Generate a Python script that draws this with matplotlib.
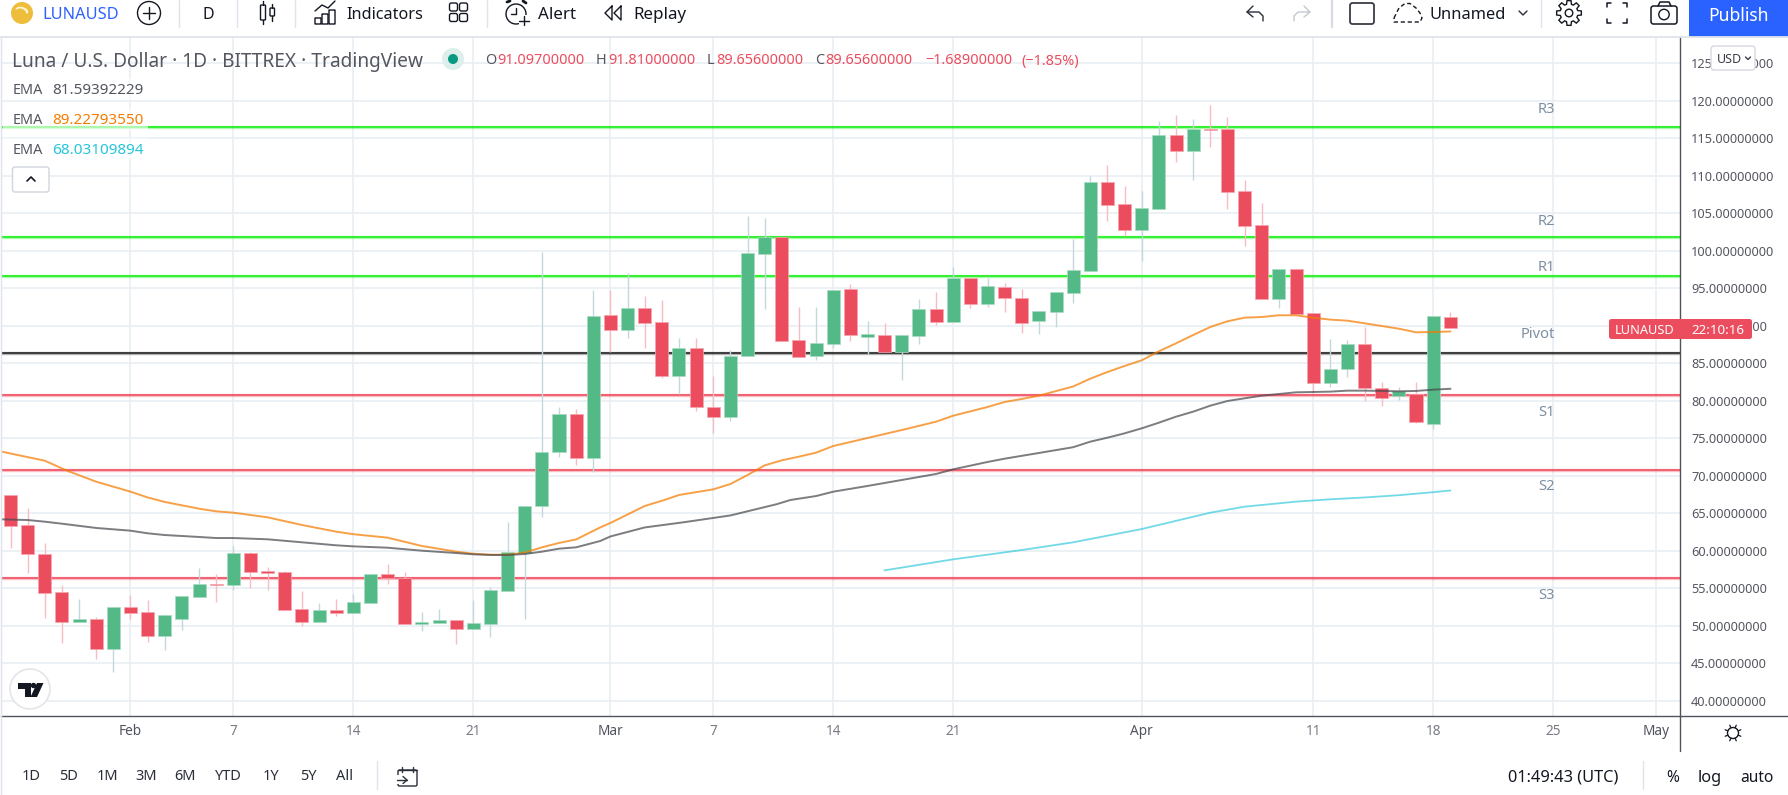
import numpy as np
import matplotlib
matplotlib.use("Agg")
import matplotlib.pyplot as plt
from matplotlib.patches import Circle, Rectangle, FancyBboxPatch, Polygon, Ellipse

plt.rcParams["font.family"] = ["Noto Sans", "DejaVu Sans"]

W, H = 1788, 795

# days are counted from Feb 1 (2022), first candle is Jan 25
first_day = -7
opens = [67.47, 63.43, 59.56, 54.49, 50.54, 50.89, 46.94, 52.49, 51.83, 48.67, 50.94, 53.87, 55.56, 55.47, 59.69,
         57.29, 57.16, 52.23, 50.54, 52.09, 51.74, 53.07, 56.89, 56.40, 50.27, 50.40, 50.76, 49.60, 50.27, 54.67,
         59.65, 65.90, 73.12, 78.18, 72.32, 91.38, 89.43, 92.32, 90.45, 83.29, 86.98, 79.20, 77.78, 85.96, 99.56,
         101.78, 88.05, 85.96, 87.52, 94.85, 88.49, 88.72, 86.49, 88.63, 92.18, 90.45, 96.32, 92.85, 95.12, 93.65,
         90.58, 91.78, 94.32, 97.30, 109.12, 106.19, 102.76, 105.56, 115.43, 113.30, 116.23, 116.23, 107.92, 103.39,
         93.56, 97.52, 91.65, 82.32, 84.23, 87.52, 81.74, 80.59, 80.85, 76.85, 91.10]
highs = [67.47, 65.69, 61.07, 55.43, 53.56, 51.12, 52.49, 54.09, 53.43, 51.43, 53.96, 57.69, 56.89, 60.67, 59.87,
         57.83, 57.34, 54.63, 53.03, 53.56, 54.23, 56.89, 58.27, 57.16, 51.83, 52.23, 50.76, 53.43, 55.16, 63.87,
         66.00, 99.87, 79.20, 78.85, 94.72, 94.72, 96.98, 93.96, 93.43, 88.32, 88.32, 83.29, 86.76, 104.63, 104.32,
         101.78, 92.45, 92.45, 94.72, 95.52, 90.58, 90.32, 88.72, 93.52, 94.45, 97.78, 96.32, 96.32, 95.65, 94.85,
         91.92, 94.45, 101.56, 109.96, 111.39, 108.59, 107.96, 117.30, 118.10, 117.56, 119.43, 117.79, 109.43, 106.32,
         97.52, 97.52, 91.65, 88.18, 88.10, 89.79, 82.45, 81.79, 82.45, 91.34, 91.81]
lows = [60.40, 57.07, 51.07, 47.74, 50.54, 45.60, 43.87, 50.89, 47.87, 46.76, 49.43, 53.87, 53.20, 54.80, 55.07,
        54.80, 52.14, 50.00, 50.54, 51.34, 51.74, 53.07, 55.56, 50.27, 49.34, 50.40, 47.60, 49.60, 48.54, 54.67,
        50.94, 64.45, 72.54, 71.43, 70.54, 86.45, 88.32, 86.98, 82.98, 80.89, 78.67, 75.74, 77.34, 85.96, 92.18,
        87.92, 85.78, 85.38, 86.98, 87.92, 86.23, 86.49, 82.72, 87.52, 90.05, 90.45, 92.32, 92.45, 91.78, 88.98,
        88.85, 89.78, 92.98, 97.30, 103.96, 101.96, 98.63, 105.56, 111.87, 109.43, 113.83, 105.56, 100.63, 93.56,
        92.32, 91.52, 80.99, 81.79, 83.12, 80.01, 79.34, 80.14, 77.07, 76.19, 89.66]
closes = [63.34, 59.52, 54.40, 50.54, 50.89, 46.94, 52.49, 51.74, 48.67, 51.43, 53.96, 55.56, 55.43, 59.69, 57.20,
          57.07, 52.14, 50.54, 52.09, 51.74, 53.16, 56.89, 56.40, 50.27, 50.49, 50.76, 49.60, 50.36, 54.76, 59.83,
          66.00, 73.20, 78.18, 72.32, 91.25, 89.43, 92.32, 90.32, 83.29, 86.98, 79.12, 77.78, 86.00, 99.65, 101.78,
          87.92, 85.78, 87.65, 94.72, 88.72, 88.85, 86.49, 88.72, 92.18, 90.45, 96.32, 92.85, 95.25, 93.65, 90.32,
          91.92, 94.45, 97.38, 109.12, 106.10, 102.76, 105.65, 115.43, 113.30, 116.23, 116.10, 107.87, 103.30, 93.56,
          97.52, 91.52, 82.32, 84.27, 87.52, 81.65, 80.32, 81.30, 77.21, 91.34, 89.66]

orange_days = [-7.5, -5, -3.7, -2, 0, 1, 2, 4, 5, 6, 8, 10, 12, 13, 15, 17, 19, 20, 21, 22, 23, 24, 25, 26, 27.4, 28,
               30, 31.15, 32, 34, 35, 36, 37, 38, 39, 40, 41, 42, 43, 45, 47, 48, 50, 51, 52, 53, 55, 56, 57, 58, 59,
               60, 61, 62, 63, 64, 65, 66, 67, 68, 69, 70, 71, 72, 73, 74, 75, 76, 77]
orange_ema = [73.2, 72.0, 70.67, 69.2, 67.87, 67.1, 66.5, 65.6, 65.25, 65.07, 64.45, 63.43, 62.54, 62.2, 61.74, 60.63,
              59.87, 59.6, 59.47, 59.47, 59.74, 60.45, 61.03, 61.5, 63.1, 63.7, 65.96, 66.76, 67.43, 68.18, 68.89,
              70.09, 71.38, 72.05, 72.54, 73.07, 73.96, 74.49, 75.03, 76.09, 77.2, 78.0, 79.16, 79.83, 80.23, 80.67,
              81.9, 82.94, 83.83, 84.63, 85.39, 86.59, 87.65, 88.76, 89.83, 90.59, 91.07, 91.16, 91.39, 91.39, 91.07,
              90.81, 90.67, 90.32, 89.96, 89.6, 89.12, 89.16, 89.23]

grey_days = [-7.5, -6, -5, -4, -2, 0, 1, 2, 4, 5, 6, 8, 10, 12, 13, 15, 17, 19, 20, 21, 22, 23, 24, 25, 26, 27.4, 28,
             30, 32.3, 35, 37.7, 38.5, 40, 41, 43, 45, 47, 48, 50, 51, 53, 55, 56, 57, 58, 59, 60, 61, 62, 63, 64, 65,
             66, 67, 68, 69, 70, 71, 72, 73, 74, 75, 76, 77]
grey_ema = [64.18, 64.09, 63.87, 63.6, 63.03, 62.67, 62.32, 62.09, 61.83, 61.69, 61.69, 61.52, 61.12, 60.72, 60.58,
            60.4, 60.0, 59.69, 59.52, 59.43, 59.43, 59.56, 59.87, 60.27, 60.45, 61.29, 61.9, 63.1, 63.8, 64.7, 66.2,
            66.76, 67.29, 67.87, 68.63, 69.43, 70.23, 70.85, 71.83, 72.27, 73.03, 73.8, 74.54, 75.07, 75.65, 76.32,
            77.07, 77.87, 78.54, 79.34, 79.96, 80.32, 80.67, 80.89, 81.12, 81.16, 81.21, 81.34, 81.34, 81.3, 81.25,
            81.3, 81.47, 81.59]

cyan_days = [44, 48, 52, 55, 59, 63, 65, 68, 69, 70, 72, 74, 76, 77]
cyan_ema = [57.38, 58.85, 60.09, 61.12, 62.89, 65.07, 65.87, 66.54, 66.7, 66.85, 67.1, 67.4, 67.8, 68.03]

level_names = ["R3", "R2", "R1", "Pivot", "S1", "S2", "S3"]
level_values = [116.45, 101.79, 96.63, 86.41, 80.81, 70.76, 56.40]
level_colors = ["#12ee12", "#12ee12", "#12ee12", "#1e1e1e", "#f0485a", "#f0485a", "#f0485a"]
level_offsets = [18, 16, 8, 18, -18, -17, -18]

tick_days = [0, 6, 13, 20, 28, 34, 41, 48, 59, 69, 76, 83, 89]
tick_labels = ["Feb", "7", "14", "21", "Mar", "7", "14", "21", "Apr", "11", "18", "25", "May"]
price_ticks = list(range(40, 130, 5))

range_buttons = ["1D", "5D", "1M", "3M", "6M", "YTD", "1Y", "5Y", "All"]
range_x = [31, 69, 107, 146, 185, 228, 271, 308, 345]

GREEN = "#53b987"
RED = "#ec4d5e"
TEXT = "#555760"
DARK = "#131722"

# pixel calibration of the chart pane
FEB_PX, PX_PER_DAY = 130.5, 17.14
P90_PX, PX_PER_USD = 325.7, 7.5
LEFT, RIGHT, TOP, BOTTOM = 1, 1680, 37, 716


def day_at(px):
    return (px - FEB_PX) / PX_PER_DAY


def price_at(py):
    return 90 - (py - P90_PX) / PX_PER_USD


fig = plt.figure(figsize=(W / 100, H / 100), dpi=100, facecolor="white")

ax = fig.add_axes([LEFT / W, 1 - BOTTOM / H, (RIGHT - LEFT) / W, (BOTTOM - TOP) / H])
ax.set_xlim(day_at(LEFT), day_at(RIGHT))
ax.set_ylim(price_at(BOTTOM), price_at(TOP))
ax.set_axisbelow(True)
ax.grid(True, color="#e9f0f5", lw=1.3)
for s in ["top", "left"]:
    ax.spines[s].set_visible(False)
for s in ["right", "bottom"]:
    ax.spines[s].set_color("#50535e")
    ax.spines[s].set_linewidth(1.0)

ax.yaxis.tick_right()
ax.set_yticks(price_ticks)
ax.set_yticklabels([f"{p:.8f}" for p in price_ticks], fontsize=9.2, color="#555760")
ax.tick_params(axis="y", length=0, pad=8)
ax.set_xticks(tick_days)
ax.set_xticklabels(tick_labels, fontsize=9.8, color="#787b86")
ax.tick_params(axis="x", length=0, pad=6)
for lab in ax.get_xticklabels():
    if lab.get_text() in ("Feb", "Mar", "Apr", "May"):
        lab.set_color("#50535e")
        lab.set_fontweight("bold")

# pivot levels sit behind the candles
for name, val, col, off in zip(level_names, level_values, level_colors, level_offsets):
    ax.axhline(val, color=col, lw=2.4, alpha=0.35, zorder=2)
    ax.axhline(val, color=col, lw=1.1, zorder=2.1)
    ax.annotate(name, (day_at(1555), val), xytext=(0, off * 0.72), textcoords="offset points",
                ha="right", va="center", fontsize=10.6, color="#7d8fa3")

days = np.arange(first_day, first_day + len(opens))
o, h, l, c = map(np.array, (opens, highs, lows, closes))
up = c >= o
wick_colors = np.where(up, "#c3d8dc", "#f8bcc3")
ax.vlines(days, l, h, colors=wick_colors, lw=1.0, zorder=3)
body_bottom = np.minimum(o, c)
body_height = np.abs(c - o)
ax.bar(days, body_height, 0.76, bottom=body_bottom, color=np.where(up, GREEN, RED),
       edgecolor=np.where(up, "#a9dcc3", "#f6a6af"), linewidth=0.5, zorder=4)

ax.plot(orange_days, orange_ema, color="#f57c00", lw=1.4, alpha=0.72, zorder=5)
ax.plot(grey_days, grey_ema, color="#4a4a50", lw=1.4, alpha=0.72, zorder=5)
ax.plot(cyan_days, cyan_ema, color="#26c6da", lw=1.3, alpha=0.65, zorder=5)

# everything around the chart is drawn in screen pixels on a top layer
ui = fig.add_axes([0, 0, 1, 1], facecolor="none")
ui.set_xlim(0, W)
ui.set_ylim(H, 0)
ui.axis("off")


def txt(x, y, s, size=10.4, color=TEXT, ha="left", weight="normal"):
    ui.text(x, y, s, fontsize=size, color=color, ha=ha, va="center_baseline", fontweight=weight)


def seg(xs, ys, color=DARK, lw=1.0, **kw):
    ui.plot(xs, ys, color=color, lw=lw, solid_capstyle="round", **kw)


def box(x0, y0, x1, y1, fc="none", ec=DARK, lw=1.0, r=2.0):
    ui.add_patch(FancyBboxPatch((x0 + r, y0 + r), x1 - x0 - 2 * r, y1 - y0 - 2 * r,
                                boxstyle=f"round,pad={r},rounding_size={r}", fc=fc, ec=ec, lw=lw))


# borders
ui.add_patch(Rectangle((0, 0), W, TOP, fc="white", ec="none"))
seg([0, W], [TOP, TOP], color="#e0e3eb", lw=1.3)
seg([1, 1], [TOP, H], color="#e0e3eb", lw=1.0)
seg([RIGHT, RIGHT], [BOTTOM, 751], color="#50535e", lw=1.0)
seg([RIGHT, W], [BOTTOM, BOTTOM], color="#50535e", lw=1.0)

# top toolbar
ui.add_patch(Circle((22, 13), 11, fc="#edbd3b", ec="none"))
ui.add_patch(Ellipse((22, 10.5), 13, 7, angle=15, fc="#fff4d0", ec="none"))
ui.add_patch(Circle((20, 15), 6.5, fc="#edbd3b", ec="none"))
txt(42, 13, "LUNAUSD", size=11.8, color="#2e62ff", weight="medium")
ui.add_patch(Circle((149, 13), 11.5, fc="none", ec=DARK, lw=1.0))
seg([143, 155], [13, 13])
seg([149, 149], [7, 19])
for x in [179, 237, 295, 487, 1541]:
    seg([x, x], [0, 27], color="#e0e3eb", lw=1.0)
seg([1332, 1332], [0, 27], color="#d8dbe3", lw=1.6)
txt(208, 13, "D", size=11.5, color=DARK, ha="center")

# candle icon
box(260.5, 5, 265.5, 20, r=0.8)
seg([263, 263], [1, 5])
seg([263, 263], [20, 24])
box(270, 8, 274.5, 16, r=0.8)
seg([272.2, 272.2], [4, 8])
seg([272.2, 272.2], [16, 21])

# indicators icon
for x0, y0 in [(315, 18), (322, 14), (329, 10)]:
    box(x0, y0, x0 + 6, 24, r=0.3)
seg([315, 322, 328, 335], [11, 5, 8, 1])
txt(346, 13, "Indicators", size=11.7, color=DARK)

# layouts icon
for x0 in [449.5, 459.5]:
    for y0 in [3, 13.5]:
        box(x0, y0, x0 + 8, y0 + 8, r=2)

# alert icon
ui.add_patch(Circle((516, 14), 10, fc="white", ec=DARK, lw=1.0))
seg([516, 516, 511], [8, 14, 14])
seg([507, 510], [2, 1], lw=2.0)
seg([523, 526], [1, 3], lw=2.0)
ui.add_patch(Rectangle((519, 15), 10, 10, fc="white", ec="none"))
seg([524, 524], [16, 25])
seg([519, 529], [20.5, 20.5])
txt(538, 13, "Alert", size=12.2, color=DARK)

# replay icon
seg([612, 605, 612, 612], [6, 13, 20, 6])
seg([621, 614, 621, 621], [6, 13, 20, 6])
txt(633, 13, "Replay", size=12.2, color=DARK)

# undo / redo
seg([1263, 1263, 1259, 1247, 1253], [21, 16, 12, 12, 6], color="#2a2e39")
seg([1247, 1253], [12, 17], color="#2a2e39")
seg([1294, 1294, 1298, 1310, 1304], [21, 16, 12, 12, 6], color="#c4c7cf")
seg([1310, 1304], [12, 17], color="#c4c7cf")

box(1350, 3, 1374, 24, ec="#3a3d47", lw=1.3, r=2.5)
# cloud icon
cx = np.array([1394, 1399, 1405, 1410, 1416, 1420, 1422, 1420, 1394, 1394])
cy = np.array([18, 8, 3.5, 3.5, 8, 13, 18, 22, 22, 18])
ui.plot(cx, cy, color=DARK, lw=1.0, ls=(0, (3, 2)))
txt(1429.5, 13, "Unnamed", size=11.8, color=DARK)
seg([1519, 1523, 1527], [11, 15, 11], color="#2a2e39")

# gear
ang = np.linspace(0, 2 * np.pi, 8, endpoint=False)
gx, gy = [], []
for a in ang:
    for da, r in [(-0.28, 9), (-0.16, 12.5), (0.16, 12.5), (0.28, 9)]:
        gx.append(1569 + r * np.cos(a + da))
        gy.append(13 + r * np.sin(a + da))
ui.add_patch(Polygon(np.column_stack([gx, gy]), closed=True, fc="none", ec=DARK, lw=1.0))
ui.add_patch(Circle((1569, 13), 3.8, fc="none", ec=DARK, lw=1.0))

# fullscreen
for sx, sy in [(-1, -1), (1, -1), (-1, 1), (1, 1)]:
    seg([1617 + sx * 6, 1617 + sx * 10, 1617 + sx * 10], [13 + sy * 10, 13 + sy * 10, 13 + sy * 6], lw=1.1)

# camera
box(1651, 6, 1677, 24, lw=1.1, r=2.5)
seg([1658, 1660, 1669, 1671], [6, 2, 2, 6], lw=1.1)
ui.add_patch(Circle((1664, 14.5), 5.2, fc="none", ec=DARK, lw=1.0))

ui.add_patch(Rectangle((1689, 0), W - 1689, TOP, fc="#2962ff", ec="none"))
txt(1739, 14, "Publish", size=12.6, color="white", ha="center", weight="medium")

# chart header
txt(12.5, 59, "Luna / U.S. Dollar \u00b7 1D \u00b7 BITTREX \u00b7 TradingView", size=13.75, color=TEXT)
ui.add_patch(Circle((453, 59), 11, fc="#dcefec", ec="none"))
ui.add_patch(Circle((453, 59), 5, fc="#089981", ec="none"))
for x, s in [(485, "O"), (596, "H"), (707, "L"), (815, "C")]:
    txt(x, 59, s, color=TEXT)
for x, s in [(497.5, "91.09700000"), (608, "91.81000000"), (716, "89.65600000"), (825.5, "89.65600000"),
             (925.5, "\u22121.68900000"), (1021.5, "(\u22121.85%)")]:
    txt(x, 59, s, color=RED)

# EMA legend, rows are slightly see-through over the lines
for y, val, col in [(89, "81.59392229", TEXT), (119, "89.22793550", "#f57c00"), (149, "68.03109894", "#26c6da")]:
    ui.add_patch(Rectangle((3, y - 11), 145, 22, fc="white", ec="none", alpha=0.6))
    txt(12.5, y, "EMA", size=10.4, color=TEXT)
    txt(52, y, val, size=11.0, color=col)
box(12.5, 167, 49, 192, fc="white", ec="#d1d4dc", lw=1.0, r=2.5)
seg([27, 31, 35], [181, 177, 181], color=DARK, lw=1.2)

# currency button
box(1711, 46, 1755, 70, fc="white", ec="#d6d9e0", lw=1.0, r=3)
txt(1729, 58, "USD", size=9.0, color="#3a3d47", ha="center")
seg([1745.5, 1748, 1750.5], [57, 59.5, 57], color="#3a3d47", lw=1.0)

# live price tag
box(1609, 319, 1752, 339, fc=RED, ec="none", lw=0, r=2.5)
txt(1615, 329, "LUNAUSD", size=9.2, color="white", weight="semibold")
txt(1691, 329, "22:10:16", size=9.6, color="white", weight="medium")

# logo
ui.add_patch(Circle((30, 689), 20, fc="white", ec="#e4e5e8", lw=1.2))
ui.add_patch(Polygon([(17.5, 683), (31, 683), (31, 697), (24.5, 697), (24.5, 688.5), (17.5, 688.5)],
                     closed=True, fc=DARK, ec="none"))
ui.add_patch(Circle((33.5, 685.5), 2.7, fc=DARK, ec="none"))
ui.add_patch(Polygon([(37, 683), (43.5, 683), (37, 697), (30.5, 697)], closed=True, fc=DARK, ec="none"))

# sun icon under the price axis
ui.add_patch(Circle((1733, 733), 5.5, fc="none", ec=DARK, lw=1.0))
for a in np.linspace(0, 2 * np.pi, 8, endpoint=False) + np.pi / 8:
    seg([1733 + 6 * np.cos(a), 1733 + 8.5 * np.cos(a)], [733 + 6 * np.sin(a), 733 + 8.5 * np.sin(a)], lw=0.9)

# bottom bar
for x, s in zip(range_x, range_buttons):
    txt(x, 775, s, size=10.5, color="#2a2e39", ha="center")
seg([376.5, 376.5], [761, 789], color="#e0e3eb")
box(398, 770, 417, 786, r=1.5, ec="#2a2e39")
ui.add_patch(Rectangle((396, 775), 9, 9, fc="white", ec="none"))
seg([398, 417], [770, 770], color="#2a2e39")
seg([402, 402], [767, 772], color="#2a2e39")
seg([413, 413], [767, 772], color="#2a2e39")
seg([397, 407], [780, 780], color="#2a2e39")
seg([403, 407, 403], [776.5, 780, 783.5], color="#2a2e39")
txt(1563, 775.5, "01:49:43 (UTC)", size=11.8, color=DARK, ha="center")
seg([1643, 1643], [761, 789], color="#e0e3eb")
txt(1672.5, 775.5, "%", size=11.2, color=DARK, ha="center")
txt(1710, 775.5, "log", size=11.8, color=DARK, ha="center")
txt(1757, 775.5, "auto", size=11.2, color=DARK, ha="center")

fig.savefig("out.png", dpi=100)
